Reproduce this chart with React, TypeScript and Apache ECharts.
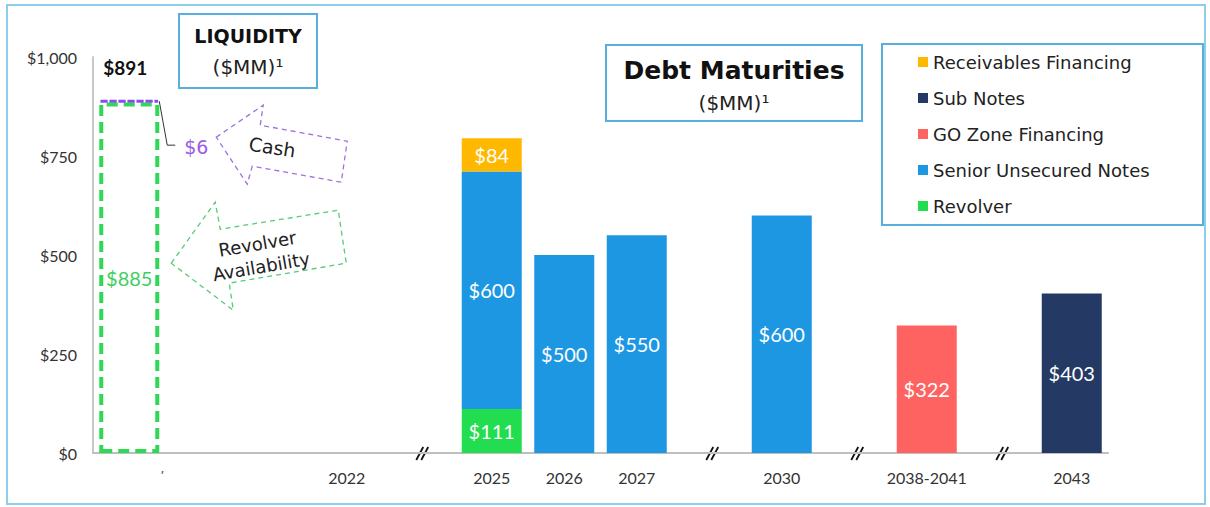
import React, { useEffect, useRef } from 'react';
import * as echarts from 'echarts';

const categories = ['Liquidity', 'g1', 'g2', '2022', 'brk1', '2025', '2026', '2027', 'brk2', '2030', 'brk3', '2038-2041', 'brk4', '2043'];
const tickLabels = ['', '', '', '2022', '', '2025', '2026', '2027', '', '2030', '', '2038-2041', '', '2043'];
const revolverAvailability = [885, null, null, null, null, null, null, null, null, null, null, null, null, null];
const cash = [6, null, null, null, null, null, null, null, null, null, null, null, null, null];
const revolver = [null, null, null, null, null, 111, null, null, null, null, null, null, null, null];
const seniorNotes = [null, null, null, null, null, 600, 500, 550, null, 600, null, null, null, null];
const receivables = [null, null, null, null, null, 84, null, null, null, null, null, null, null, null];
const goZone = [null, null, null, null, null, null, null, null, null, null, null, 322, null, null];
const subNotes = [null, null, null, null, null, null, null, null, null, null, null, null, null, 403];
const yTicks = [0, 250, 500, 750, 1000];
const legendOrder = ['Receivables Financing', 'Sub Notes', 'GO Zone Financing', 'Senior Unsecured Notes', 'Revolver'];

const FONT = 'Lato, "Noto Sans", sans-serif';
const WIDE = '"DejaVu Sans", "Noto Sans", sans-serif';
const BAR_W = 60;
const BOX = '#5AAEDD';
const C_REC = '#FFB800';
const C_SUB = '#243A64';
const C_GO = '#FF6361';
const C_SEN = '#1E97E3';
const C_REV = '#22DD50';
const C_LIQ = '#2FD955';
const C_PUR = '#8A4CF0';

export default function App() {
  const ref = useRef<HTMLDivElement>(null);
  useEffect(() => {
    const chart = echarts.init(ref.current!, null, { renderer: 'svg' });
    const lbl = (color = '#fff', size = 20) => ({
      show: true,
      position: 'inside',
      color,
      fontSize: size,
      fontFamily: FONT,
      formatter: (p: any) => (p.value == null ? '' : '$' + p.value),
    });
    const debt = (name: string, data: any[], color: string) => ({
      name,
      type: 'bar',
      stack: 'total',
      barWidth: BAR_W,
      data,
      itemStyle: { color },
      label: lbl(),
    });
    chart.setOption({
      animation: false,
      backgroundColor: '#fff',
      grid: { left: 93, right: 102, top: 57, bottom: 54, containLabel: false, outerBoundsMode: 'none' },
      legend: {
        data: legendOrder,
        orient: 'vertical',
        left: 918,
        top: 52,
        padding: 0,
        itemWidth: 10,
        itemHeight: 10,
        itemGap: 16,
        icon: 'rect',
        selectedMode: false,
        textStyle: { fontSize: 18, fontFamily: WIDE, color: '#222', lineHeight: 20 },
      },
      xAxis: {
        type: 'category',
        data: categories,
        axisTick: { show: false },
        axisLine: { lineStyle: { color: '#BFBFBF', width: 2 } },
        axisLabel: {
          interval: 0,
          formatter: (_v: string, i: number) => tickLabels[i],
          fontSize: 16,
          color: '#333',
          fontFamily: FONT,
          margin: 16,
        },
      },
      yAxis: {
        type: 'value',
        min: yTicks[0],
        max: yTicks[yTicks.length - 1],
        interval: yTicks[1] - yTicks[0],
        splitLine: { show: false },
        axisTick: { show: false },
        axisLine: { show: true, lineStyle: { color: '#C8C8C8', width: 2 } },
        axisLabel: {
          formatter: (v: number) => '$' + v.toLocaleString('en-US'),
          fontSize: 16,
          color: '#333',
          fontFamily: FONT,
          margin: 16,
        },
      },
      series: [
        {
          name: 'Revolver Availability',
          type: 'bar',
          stack: 'total',
          barWidth: BAR_W,
          data: revolverAvailability,
          itemStyle: { color: 'rgba(0,0,0,0)', borderColor: C_LIQ, borderWidth: 4, borderType: [11, 6] },
          label: lbl('#3ECF60', 20),
        },
        {
          name: 'Cash',
          type: 'bar',
          stack: 'total',
          barWidth: BAR_W,
          data: cash,
          itemStyle: { color: 'rgba(0,0,0,0)', borderColor: C_PUR, borderWidth: 3, borderType: [6, 3] },
          label: { show: false },
        },
        debt('Revolver', revolver, C_REV),
        debt('Senior Unsecured Notes', seniorNotes, C_SEN),
        debt('Receivables Financing', receivables, C_REC),
        debt('GO Zone Financing', goZone, C_GO),
        debt('Sub Notes', subNotes, C_SUB),
      ],
    });

    const finder = { xAxisIndex: 0, yAxisIndex: 0 };
    const liqTotal = (revolverAvailability[0] as number) + (cash[0] as number);
    const [cx, by] = chart.convertToPixel(finder, [categories[0], liqTotal]) as number[];
    const y0 = (chart.convertToPixel(finder, [categories[0], 0]) as number[])[1];
    const bx = cx + BAR_W / 2;
    const rel = (pts: number[][]) => pts.map(([x, y]) => [bx + x, by + y]);

    const graphics: any[] = [
      { type: 'rect', shape: { x: 7, y: 5, width: 1198, height: 499 }, style: { fill: 'none', stroke: '#8DCDEB', lineWidth: 2 }, z: 1 },
      // Liquidity title box
      { type: 'rect', shape: { x: 179, y: 14, width: 138, height: 74 }, style: { fill: '#fff', stroke: BOX, lineWidth: 2 } },
      { type: 'text', x: 248, y: 36, style: { text: 'LIQUIDITY', fontSize: 19, fontWeight: 'bold', fontFamily: WIDE, fill: '#111', align: 'center', verticalAlign: 'middle' } },
      { type: 'text', x: 248, y: 67, style: { text: '($MM)¹', fontSize: 20, fontFamily: WIDE, fill: '#222', align: 'center', verticalAlign: 'middle' } },
      // Debt maturities title box
      { type: 'rect', shape: { x: 606, y: 45, width: 256, height: 76 }, style: { fill: '#fff', stroke: BOX, lineWidth: 2 } },
      { type: 'text', x: 734, y: 70, style: { text: 'Debt Maturities', fontSize: 25, fontWeight: 'bold', fontFamily: WIDE, fill: '#111', align: 'center', verticalAlign: 'middle' } },
      { type: 'text', x: 734, y: 103, style: { text: '($MM)¹', fontSize: 20, fontFamily: WIDE, fill: '#222', align: 'center', verticalAlign: 'middle' } },
      // Legend box
      { type: 'rect', shape: { x: 882, y: 44, width: 321, height: 181 }, style: { fill: 'none', stroke: BOX, lineWidth: 2 } },
      // total liquidity label
      { type: 'text', x: cx - 4, y: by - 33, style: { text: '$' + liqTotal, fontSize: 19, fontWeight: 'bold', fontFamily: FONT, fill: '#111', align: 'center', verticalAlign: 'middle' } },
      // cash leader line and label
      { type: 'polyline', shape: { points: rel([[0, 1], [8, 45], [16, 45]]) }, style: { stroke: '#333', lineWidth: 1, fill: 'none' } },
      { type: 'text', x: bx + 25, y: by + 47, style: { text: '$' + cash[0], fontSize: 19, fontFamily: WIDE, fill: '#9A5CE8', align: 'left', verticalAlign: 'middle' } },
      // cash arrow
      { type: 'polygon', shape: { points: rel([[57, 37], [104, 5], [101, 25], [188, 41], [182, 82], [93, 66], [88, 84]]) }, style: { fill: 'none', stroke: '#A070E0', lineWidth: 1.3, lineDash: [5, 4] } },
      { type: 'text', x: bx + 113, y: by + 47, rotation: -0.15, style: { text: 'Cash', fontSize: 19, fontFamily: WIDE, fill: '#222', align: 'center', verticalAlign: 'middle' } },
      // revolver arrow
      { type: 'polygon', shape: { points: rel([[12, 163], [56, 102], [61, 129], [179, 110], [187, 163], [70, 183], [74, 210]]) }, style: { fill: 'none', stroke: '#55CC77', lineWidth: 1.3, lineDash: [5, 4] } },
      { type: 'text', x: bx + 100, y: by + 155, rotation: 0.17, style: { text: 'Revolver\nAvailability', fontSize: 18, lineHeight: 23, fontFamily: WIDE, fill: '#222', align: 'center', verticalAlign: 'middle' } },
      // stray tick mark under liquidity
      { type: 'text', x: bx + 3, y: y0 + 22, style: { text: '\u2019', fontSize: 13, fontFamily: WIDE, fill: '#555', align: 'center', verticalAlign: 'middle' } },
    ];
    categories.forEach((c) => {
      if (c.startsWith('brk')) {
        const px = (chart.convertToPixel(finder, [c, 0]) as number[])[0] + 3;
        graphics.push(
          { type: 'line', shape: { x1: px - 6, y1: y0 + 7, x2: px + 1, y2: y0 - 6 }, style: { stroke: '#111', lineWidth: 1.8 } },
          { type: 'line', shape: { x1: px - 1, y1: y0 + 7, x2: px + 6, y2: y0 - 6 }, style: { stroke: '#111', lineWidth: 1.8 } },
        );
      }
    });
    chart.setOption({ graphic: graphics });
    return () => chart.dispose();
  }, []);
  return <div ref={ref} style={{ position: 'fixed', left: 0, top: 0, width: 1210, height: 507, background: '#fff' }} />;
}
